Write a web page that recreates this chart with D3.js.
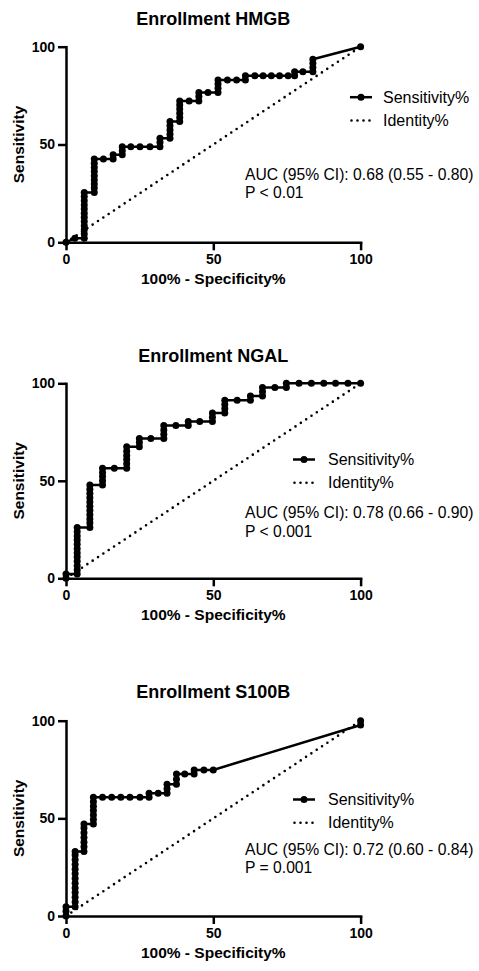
<!DOCTYPE html>
<meta charset="utf-8">
<style>
body { margin: 0; background: #fff; }
svg { font-family: "Liberation Sans", Arial, Helvetica, sans-serif; }
.roc { fill: none; stroke: #000; stroke-width: 2.5px; }
.ident { fill: none; stroke: #000; stroke-width: 2.6px; stroke-linecap: round; stroke-dasharray: 0,6.4; }
.axis path { stroke: #000; stroke-width: 2.5px; stroke-linecap: square; }
.axis line { stroke: #000; stroke-width: 2.5px; }
.axis text { font-size: 14px; font-weight: bold; fill: #000; }
</style>
<script src="https://cdn.jsdelivr.net/npm/d3@7"></script>
<body>
<script>

// ROC points: [100% - Specificity%, Sensitivity%]
var hmgbRoc = [[0,0],[3,2.1],
  [6.2,2.1],[6.2,4.3],[6.2,6.4],[6.2,8.5],[6.2,10.6],[6.2,12.8],[6.2,14.9],[6.2,17],[6.2,19.1],[6.2,21.3],[6.2,23.4],[6.2,25.5],
  [9.6,25.5],[9.6,27.7],[9.6,29.8],[9.6,31.9],[9.6,34],[9.6,36.2],[9.6,38.3],[9.6,40.4],[9.6,42.6],
  [12.7,42.6],[16,42.6],[16,44.7],[19.1,44.7],[19.1,46.8],[19.1,48.9],
  [22,48.9],[25.1,48.9],[28.5,48.9],[31.9,48.9],[31.9,51.1],[31.9,53.2],
  [35.3,53.2],[35.3,55.3],[35.3,57.4],[35.3,59.6],[35.3,61.7],
  [38.6,61.7],[38.6,63.8],[38.6,66],[38.6,68.1],[38.6,70.2],[38.6,72.3],
  [41.8,72.3],[45.1,72.3],[45.1,74.5],[45.1,76.6],[48.2,76.6],
  [51.6,76.6],[51.6,78.7],[51.6,80.9],[51.6,83],[54.8,83],[57.9,83],[60.9,83],[60.9,85.1],
  [64.1,85.1],[66.9,85.1],[69.7,85.1],[72.5,85.1],[75.4,85.1],[77.6,85.1],[77.6,87.2],[80.4,87.2],
  [83.8,87.2],[83.8,89.4],[83.8,91.5],[83.8,93.6],[100,100]];

var ngalRoc = [[0,0],[0,2.2],
  [3.8,2.2],[3.8,4.3],[3.8,6.5],[3.8,8.7],[3.8,10.9],[3.8,13],[3.8,15.2],[3.8,17.4],[3.8,19.6],[3.8,21.7],[3.8,23.9],[3.8,26.1],
  [8.1,26.1],[8.1,28.3],[8.1,30.4],[8.1,32.6],[8.1,34.8],[8.1,37],[8.1,39.1],[8.1,41.3],[8.1,43.5],[8.1,45.7],[8.1,47.8],
  [12.4,47.8],[12.4,50],[12.4,52.2],[12.4,54.3],[12.4,56.5],[16.4,56.5],
  [20.6,56.5],[20.6,58.7],[20.6,60.9],[20.6,63],[20.6,65.2],[20.6,67.4],
  [24.9,67.4],[24.9,69.6],[24.9,71.7],[28.8,71.7],
  [33.2,71.7],[33.2,73.9],[33.2,76.1],[33.2,78.3],[37.3,78.3],[41.5,78.3],[41.5,80.4],[45.4,80.4],
  [49.7,80.4],[49.7,82.6],[49.7,84.8],[53.9,84.8],[53.9,87],[53.9,89.1],[53.9,91.3],
  [58.1,91.3],[62.6,91.3],[62.6,93.5],[66.7,93.5],[66.7,95.7],[66.7,97.8],[70.9,97.8],
  [74.8,97.8],[74.8,100],[79.1,100],[83.3,100],[87.5,100],[91.5,100],[95.7,100],[100,100]];

var s100bRoc = [[0,0],[0,2.4],[0,4.8],
  [3.1,4.8],[3.1,7.2],[3.1,9.6],[3.1,12],[3.1,14.4],[3.1,16.8],[3.1,19.2],[3.1,21.6],[3.1,24],[3.1,26.4],[3.1,28.8],[3.1,31.2],[3.1,33],
  [6.1,33],[6.1,35.4],[6.1,37.8],[6.1,40.2],[6.1,42.6],[6.1,45],[6.1,47.1],
  [9.3,47.1],[9.3,49.4],[9.3,51.7],[9.3,54],[9.3,56.2],[9.3,58.5],[9.3,60.8],
  [12.4,60.8],[15.5,60.8],[18.6,60.8],[21.7,60.8],[25.1,60.8],[28.2,60.8],[28.2,62.8],[31.3,62.8],
  [34.3,62.8],[34.3,65.1],[34.3,67.4],[37.5,67.4],[37.5,70],[37.5,72.7],
  [40.3,72.7],[43.5,72.7],[43.5,74.8],[46.8,74.8],[50,74.8],[100,97.8],[100,100]];

var identity = [[0,0],[100,100]];

var titles = ["Enrollment HMGB", "Enrollment NGAL", "Enrollment S100B"];
var aucLabels = ["AUC (95% CI): 0.68 (0.55 - 0.80)", "AUC (95% CI): 0.78 (0.66 - 0.90)", "AUC (95% CI): 0.72 (0.60 - 0.84)"];
var pLabels = ["P < 0.01", "P < 0.001", "P = 0.001"];
var legendLabels = ["Sensitivity%", "Identity%"];
var ticks = [0, 50, 100];

// where each panel sits on the page
var layout = [
  {top: 46.7, bottom: 242.3, titleY: 25, legX: 350, legTextX: 383, legY: 102.7, aucY: 180},
  {top: 383.3, bottom: 578.3, titleY: 361.7, legX: 293, legTextX: 328, legY: 465, aucY: 518.3},
  {top: 720.7, bottom: 916, titleY: 698.3, legX: 293, legTextX: 328, legY: 805, aucY: 855}
];
var rocs = [hmgbRoc, ngalRoc, s100bRoc];

var width = 479, height = 971,
    x0 = 66, x1 = 360.6;

var svg = d3.select("body").append("svg")
    .attr("width", width)
    .attr("height", height);

var x = d3.scaleLinear().domain([0, 100]).range([x0, x1]);

rocs.forEach(function(roc, i) {
  var L = layout[i];
  var y = d3.scaleLinear().domain([0, 100]).range([L.bottom, L.top]);
  var g = svg.append("g");

  var line = d3.line()
      .x(function(d) { return x(d[0]); })
      .y(function(d) { return y(d[1]); });

  g.append("path").datum(identity).attr("class", "ident").attr("d", line);

  g.append("g").attr("class", "axis")
      .attr("transform", "translate(0," + L.bottom + ")")
      .call(d3.axisBottom(x).tickValues(ticks).tickSize(8).tickSizeOuter(0).tickPadding(4));
  g.append("g").attr("class", "axis")
      .attr("transform", "translate(" + x0 + ",0)")
      .call(d3.axisLeft(y).tickValues(ticks).tickSize(8).tickSizeOuter(0).tickPadding(3));

  g.append("path").datum(roc).attr("class", "roc").attr("d", line);
  g.selectAll(".pt").data(roc).enter().append("circle")
      .attr("class", "pt")
      .attr("cx", function(d) { return x(d[0]); })
      .attr("cy", function(d) { return y(d[1]); })
      .attr("r", 3.5);

  g.append("text")
      .attr("x", (x0 + x1) / 2).attr("y", L.titleY)
      .attr("text-anchor", "middle")
      .style("font-size", "18px").style("font-weight", "bold")
      .text(titles[i]);

  g.append("text")
      .attr("x", (x0 + x1) / 2).attr("y", L.bottom + 42)
      .attr("text-anchor", "middle")
      .style("font-size", "15.5px").style("font-weight", "bold")
      .text("100% - Specificity%");

  g.append("text")
      .attr("transform", "translate(24," + (L.top + L.bottom) / 2 + ") rotate(-90)")
      .attr("text-anchor", "middle")
      .style("font-size", "15.5px").style("font-weight", "bold")
      .text("Sensitivity");

  // legend
  var ly = L.legY - 5.5;
  g.append("line").attr("x1", L.legX).attr("x2", L.legX + 22)
      .attr("y1", ly).attr("y2", ly).attr("class", "roc");
  g.append("circle").attr("cx", L.legX + 11).attr("cy", ly).attr("r", 3.5);
  g.append("line").attr("x1", L.legX + 1.5).attr("x2", L.legX + 22)
      .attr("y1", ly + 23.3).attr("y2", ly + 23.3).attr("class", "ident")
      .style("stroke-dasharray", "0,6");
  legendLabels.forEach(function(t, k) {
    g.append("text").attr("x", L.legTextX).attr("y", L.legY + k * 23.3)
        .style("font-size", "16px").text(t);
  });

  g.append("text").attr("x", 245).attr("y", L.aucY)
      .style("font-size", "15.7px").text(aucLabels[i]);
  g.append("text").attr("x", 245).attr("y", L.aucY + 18.3)
      .style("font-size", "15.7px").text(pLabels[i]);
});

</script>
</body>
